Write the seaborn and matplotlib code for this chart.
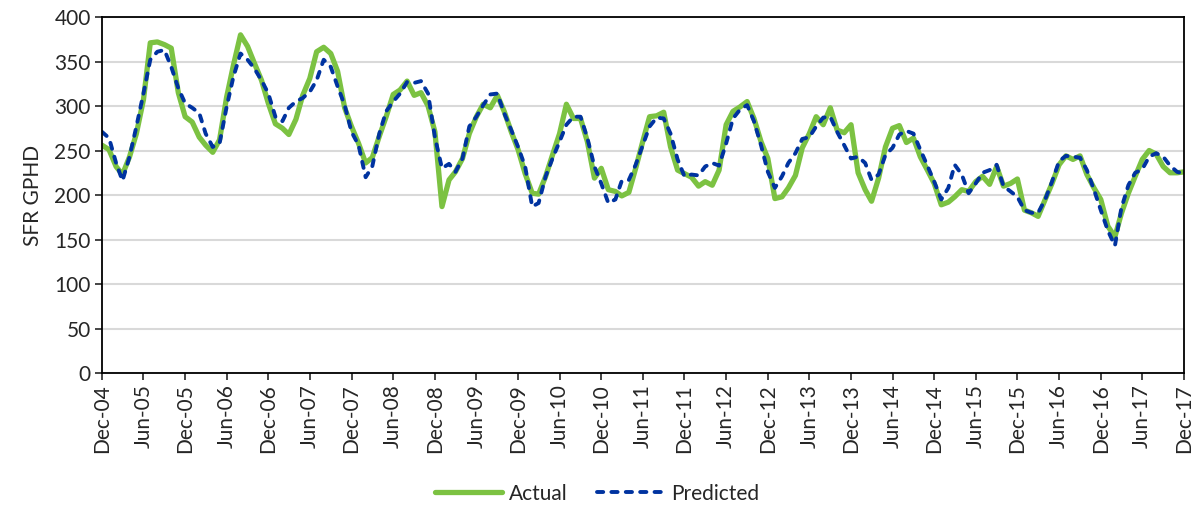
import pandas as pd
import matplotlib.pyplot as plt
import seaborn as sns

# Monthly values, Dec-2004 .. Dec-2017
start_month = "2004-12-01"
actual = [256, 251, 232, 223, 243, 269, 307, 371, 372, 369, 365, 315, 288, 282, 265, 256,
          248, 262, 310, 346, 380, 367, 348, 329, 303, 280, 275, 268, 285, 312, 331, 361,
          366, 359, 339, 298, 277, 258, 236, 242, 266, 288, 313, 318, 328, 312, 315, 300,
          271, 187, 217, 226, 241, 269, 288, 302, 298, 312, 294, 271, 251, 224, 202, 201,
          221, 245, 269, 302, 286, 286, 260, 219, 230, 206, 204, 199, 203, 230, 260, 288,
          289, 293, 254, 228, 224, 220, 210, 215, 211, 228, 279, 294, 299, 305, 286, 260,
          241, 196, 198, 208, 222, 253, 269, 288, 279, 298, 273, 270, 279, 225, 206, 193,
          219, 254, 275, 278, 259, 264, 243, 228, 213, 189, 192, 198, 206, 204, 215, 221,
          212, 232, 210, 213, 218, 183, 180, 176, 195, 213, 234, 244, 240, 244, 223, 208,
          195, 165, 153, 179, 202, 221, 240, 250, 246, 232, 225, 225, 226]
predicted = [271, 264, 236, 216, 243, 277, 314, 352, 361, 363, 344, 320, 303, 298, 292, 269,
             254, 258, 299, 333, 359, 352, 342, 329, 314, 288, 283, 298, 305, 309, 316, 329,
             352, 344, 322, 301, 271, 256, 220, 232, 269, 294, 305, 314, 327, 326, 328, 314,
             265, 230, 235, 226, 241, 277, 288, 301, 313, 314, 292, 273, 254, 232, 187, 191,
             221, 241, 260, 279, 288, 288, 264, 232, 213, 191, 195, 216, 217, 234, 256, 277,
             287, 286, 269, 240, 221, 223, 222, 232, 236, 233, 258, 286, 296, 301, 283, 256,
             226, 208, 221, 236, 247, 263, 265, 277, 287, 288, 271, 256, 241, 243, 236, 217,
             223, 245, 253, 268, 272, 269, 251, 233, 215, 195, 208, 234, 223, 202, 213, 225,
             228, 234, 210, 204, 198, 183, 180, 180, 195, 215, 238, 244, 243, 242, 228, 206,
             183, 160, 143, 185, 211, 225, 229, 243, 247, 243, 233, 226, 224]
y_ticks = [0, 50, 100, 150, 200, 250, 300, 350, 400]

dates = pd.date_range(start_month, periods=len(actual), freq="MS")
df = pd.DataFrame({"Date": dates, "Actual": actual, "Predicted": predicted})

sns.set_style("white")
plt.rcParams["font.family"] = ["Lato", "DejaVu Sans"]

fig = plt.figure(figsize=(11.94, 5.08), dpi=100)
ax = fig.add_axes([0.0854, 0.2657, 0.9062, 0.7008])

sns.lineplot(data=df, x="Date", y="Actual", ax=ax, color="#7CC242",
             linewidth=3.8, label="Actual")
sns.lineplot(data=df, x="Date", y="Predicted", ax=ax, color="#0033A0",
             linewidth=2.8, label="Predicted")
ax.lines[1].set_dashes([1.6, 2.1])
ax.lines[1].set_dash_capstyle("round")

ax.set_ylim(0, 400)
ax.set_yticks(y_ticks)
ax.set_xlim(dates[0], dates[-1])
tick_dates = pd.date_range(dates[0], dates[-1], freq="6MS")
ax.set_xticks(tick_dates)
ax.set_xticklabels([d.strftime("%b-%y") for d in tick_dates], rotation=90)
ax.tick_params(axis="both", labelsize=15, length=5, width=1.2, direction="out",
               bottom=True, left=True, pad=3)
ax.grid(axis="y", color="#D9D9D9", linewidth=1.5)
ax.set_axisbelow(True)
for s in ax.spines.values():
    s.set_color("black")
    s.set_linewidth(1.3)

ax.set_xlabel("")
ax.set_ylabel("SFR GPHD", fontsize=15, labelpad=8)

ax.get_legend().remove()
handles, labels = ax.get_legend_handles_labels()
fig.legend(handles, labels, loc="center", bbox_to_anchor=(0.5, 0.028), ncol=2,
           frameon=False, fontsize=15, handlelength=3.2, handletextpad=0.35,
           columnspacing=1.4)

fig.savefig("out.png", dpi=100)
